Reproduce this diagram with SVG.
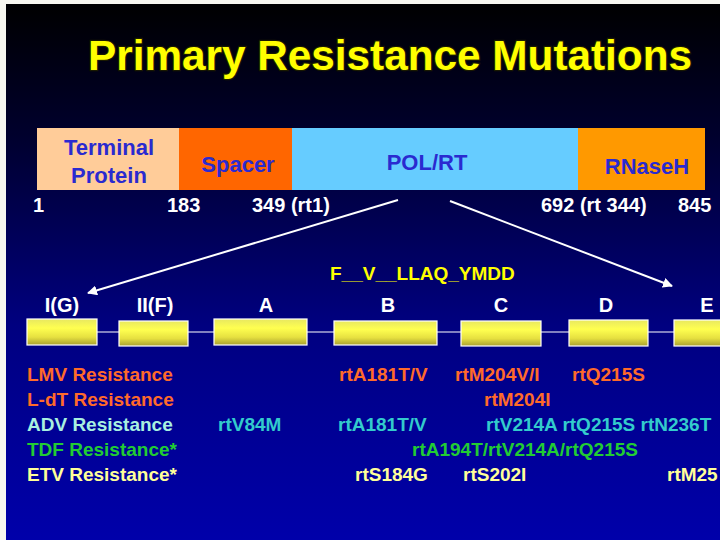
<svg xmlns="http://www.w3.org/2000/svg" width="720" height="540" viewBox="0 0 720 540">
<defs>
<linearGradient id="bg" x1="0" y1="0" x2="0" y2="1">
<stop offset="0" stop-color="#000000"/>
<stop offset="0.25" stop-color="#00002e"/>
<stop offset="0.6" stop-color="#000080"/>
<stop offset="1" stop-color="#0000aa"/>
</linearGradient>
<linearGradient id="box" x1="0" y1="0" x2="0" y2="1">
<stop offset="0" stop-color="#e8e860"/>
<stop offset="0.35" stop-color="#ffff50"/>
<stop offset="0.7" stop-color="#e6e040"/>
<stop offset="1" stop-color="#a8a030"/>
</linearGradient>
<marker id="ah" viewBox="0 0 10 10" refX="9" refY="5" markerWidth="5" markerHeight="5" orient="auto">
<path d="M0,0 L10,5 L0,10 z" fill="#ffffff"/>
</marker>
</defs>
<style>
text{font-family:"Liberation Sans",Arial,sans-serif;font-weight:bold}
.dom{font-size:22px;fill:#2a2ad0;text-anchor:middle}
.num{font-size:20px;fill:#ffffff}
.lbl{font-size:20px;fill:#ffffff;text-anchor:middle}
.row{font-size:19px}
.orange{fill:#ff6a2a}
.adv{fill:#a8f0e0}
.teal{fill:#33cccc}
.green{fill:#22cc33}
.ylw{fill:#ffff99}
.bx{fill:url(#box);stroke:#ffffff;stroke-width:1.2}
</style>
<rect x="0" y="0" width="720" height="540" fill="#f8f8f0"/>
<rect x="6" y="4" width="714" height="536" fill="url(#bg)"/>

<g id="title">
<text x="390" y="70" font-size="42" fill="#ffff00" stroke="#1a1a00" stroke-width="2.5" paint-order="stroke" text-anchor="middle" textLength="604" lengthAdjust="spacingAndGlyphs">Primary Resistance Mutations</text>
</g>

<g id="protein-bar">
<g id="terminal-protein">
<rect x="37" y="128" width="142" height="62" fill="#ffcc99"/>
<text class="dom" x="109" y="155">Terminal</text>
<text class="dom" x="109" y="183">Protein</text>
</g>
<g id="spacer">
<rect x="179" y="128" width="113" height="62" fill="#ff6600"/>
<text class="dom" x="238" y="172">Spacer</text>
</g>
<g id="polrt">
<rect x="292" y="128" width="286" height="62" fill="#66ccff"/>
<text class="dom" x="427" y="170">POL/RT</text>
</g>
<g id="rnaseh">
<rect x="578" y="128" width="127" height="62" fill="#ff9900"/>
<text class="dom" x="647" y="174">RNaseH</text>
</g>
</g>

<g id="positions">
<text class="num" x="33" y="212">1</text>
<text class="num" x="167" y="212">183</text>
<text class="num" x="252" y="212">349 (rt1)</text>
<text class="num" x="541" y="212">692 (rt 344)</text>
<text class="num" x="678" y="212">845</text>
</g>

<g id="connectors" stroke="#ffffff" fill="none">
<line x1="398" y1="200" x2="88" y2="293" stroke-width="2" marker-end="url(#ah)"/>
<line x1="450" y1="201" x2="672" y2="286" stroke-width="2" marker-end="url(#ah)"/>
<line x1="97" y1="332" x2="720" y2="332" stroke-width="1.2"/>
</g>

<text x="330" y="280" font-size="19" fill="#ffff00">F__V__LLAQ_YMDD</text>

<g id="motif-IG"><rect class="bx" x="27" y="319" width="70" height="26"/><text class="lbl" x="62" y="312">I(G)</text></g>
<g id="motif-IIF"><rect class="bx" x="119" y="321" width="69" height="25"/><text class="lbl" x="155" y="312">II(F)</text></g>
<g id="motif-A"><rect class="bx" x="214" y="319" width="93" height="26"/><text class="lbl" x="266" y="312">A</text></g>
<g id="motif-B"><rect class="bx" x="334" y="321" width="103" height="24"/><text class="lbl" x="388" y="312">B</text></g>
<g id="motif-C"><rect class="bx" x="461" y="321" width="80" height="25"/><text class="lbl" x="501" y="312">C</text></g>
<g id="motif-D"><rect class="bx" x="569" y="320" width="79" height="26"/><text class="lbl" x="606" y="312">D</text></g>
<g id="motif-E"><rect class="bx" x="674" y="320" width="60" height="26"/><text class="lbl" x="707" y="312">E</text></g>

<g id="rows" class="row">
<text class="row orange" x="27" y="381">LMV Resistance</text>
<text class="row orange" x="339" y="381">rtA181T/V</text>
<text class="row orange" x="455" y="381">rtM204V/I</text>
<text class="row orange" x="572" y="381">rtQ215S</text>

<text class="row orange" x="27" y="406">L-dT Resistance</text>
<text class="row orange" x="484" y="406">rtM204I</text>

<text class="row adv" x="27" y="431">ADV Resistance</text>
<text class="row teal" x="218" y="431">rtV84M</text>
<text class="row teal" x="338" y="431">rtA181T/V</text>
<text class="row teal" x="486" y="431">rtV214A rtQ215S rtN236T</text>

<text class="row green" x="27" y="456">TDF Resistance*</text>
<text class="row green" x="412" y="456">rtA194T/rtV214A/rtQ215S</text>

<text class="row ylw" x="27" y="481">ETV Resistance*</text>
<text class="row ylw" x="355" y="481">rtS184G</text>
<text class="row ylw" x="463" y="481">rtS202I</text>
<text class="row ylw" x="667" y="481">rtM25</text>
</g>
</svg>
